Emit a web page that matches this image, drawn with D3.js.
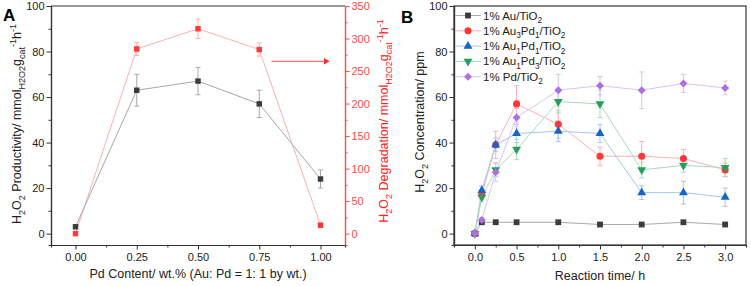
<!DOCTYPE html>
<html>
<head>
<meta charset="utf-8">
<script src="https://cdn.jsdelivr.net/npm/d3@7"></script>
<style>
  body { margin: 0; background: #fff; }
  text { font-family: "Liberation Sans", Arial, sans-serif; }
  .axis path, .axis line { stroke: #333; }
  .axis text { fill: #222; font-size: 11px; }
  .red.axis path, .red.axis line { stroke: #ff4a4a; }
  .red.axis text { fill: #ff4a4a; }
</style>
</head>
<body>
<script>
// Panel A data
var pdContent = [0, 0.25, 0.5, 0.75, 1.0];
var productivity = [3, 63, 67, 57, 24];
var productivityErr = [0.5, 7, 6, 6, 4];
var degradation = [0, 284, 315, 283, 13];
var degradationErr = [1, 10, 15, 10, 3];
var arrowX = [0.8, 1.03], arrowY = 265;

// Panel B data
var times = [0, 0.083, 0.25, 0.5, 1, 1.5, 2, 2.5, 3];
var seriesNames = ["Au/TiO2", "Au3Pd1/TiO2", "Au1Pd1/TiO2", "Au1Pd3/TiO2", "Pd/TiO2"];
var au = [0, 5, 5, 5, 5, 4, 4, 5, 4];
var auErr = [0, 0.5, 0.5, 0.5, 0.5, 0.5, 0.5, 0.5, 0.5];
var au3pd1 = [0, 17, 39, 57, 48, 34, 34, 33, 28];
var au3pd1Err = [0, 2, 6, 8, 6, 4, 6.5, 4, 3];
var au1pd1 = [0, 19, 39, 44, 45, 44, 18, 18, 16];
var au1pd1Err = [0, 2, 3, 4, 4.5, 4, 3, 5, 4];
var au1pd3 = [0, 16, 28, 37, 58, 57, 28, 30, 29];
var au1pd3Err = [0, 2, 3, 4.5, 5, 6, 3.5, 3, 4];
var pd = [0, 6, 27, 51, 63, 65, 63, 66, 64];
var pdErr = [0, 1, 4, 4, 7, 4, 8, 4, 3];

var svg = d3.select("body").append("svg")
    .attr("width", 751)
    .attr("height", 286);

// writes text with sub/superscripts; parts = [[string, "sub"|"sup"|null], ...]
function richText(t, parts, size) {
  var offset = 0;
  parts.forEach(function(p) {
    var target = p[1] == "sub" ? size * 0.3 : p[1] == "sup" ? -size * 0.42 : 0;
    t.append("tspan")
      .attr("dy", target - offset)
      .style("font-size", (p[1] ? size * 0.72 : size) + "px")
      .text(p[0]);
    offset = target;
  });
}

var unitParts = [["mmol", null], ["H2O2", "sub"], ["g", null], ["cat", "sub"], ["-1", "sup"], ["h", null], ["-1", "sup"]];

// ---------- Panel A ----------
var a = {left: 51, right: 345, top: 6, bottom: 245};
var xA = d3.scaleLinear().domain([-0.1, 1.1]).range([a.left, a.right]);
var yA = d3.scaleLinear().domain([-5, 100]).range([a.bottom, a.top]);
var yA2 = d3.scaleLinear().domain([-17.5, 350]).range([a.bottom, a.top]);

// top frame line
svg.append("line")
    .attr("x1", a.left).attr("x2", a.right)
    .attr("y1", a.top).attr("y2", a.top)
    .attr("stroke", "#333").attr("stroke-width", 1.2);

// minor ticks
svg.append("g").attr("class", "axis")
    .attr("transform", "translate(0," + a.bottom + ")")
    .call(d3.axisBottom(xA).tickValues(d3.range(0.125, 1.1, 0.25)).tickSize(2.5).tickFormat(""));
svg.append("g").attr("class", "axis")
    .attr("transform", "translate(" + a.left + ",0)")
    .call(d3.axisLeft(yA).tickValues(d3.range(10, 100, 20)).tickSize(2.5).tickFormat(""));
svg.append("g").attr("class", "red axis")
    .attr("transform", "translate(" + a.right + ",0)")
    .call(d3.axisRight(yA2).tickValues(d3.range(25, 350, 50)).tickSize(2.5).tickFormat(""));

// major axes
svg.append("g").attr("class", "axis")
    .attr("transform", "translate(0," + a.bottom + ")")
    .call(d3.axisBottom(xA).tickValues(pdContent).tickSize(4.5).tickPadding(4).tickSizeOuter(0).tickFormat(d3.format(".2f")));
svg.append("g").attr("class", "axis")
    .attr("transform", "translate(" + a.left + ",0)")
    .call(d3.axisLeft(yA).tickValues(d3.range(0, 101, 20)).tickSize(4.5).tickPadding(2).tickSizeOuter(0));
svg.append("g").attr("class", "red axis")
    .attr("transform", "translate(" + a.right + ",0)")
    .call(d3.axisRight(yA2).tickValues(d3.range(0, 351, 50)).tickSize(4.5).tickPadding(2).tickSizeOuter(0));
svg.selectAll(".axis path").attr("stroke-width", 1.2);

// draws one series of panel A: line, error bars, square markers
function drawA(vals, errs, y, lineColor, markColor) {
  var g = svg.append("g");
  g.append("path")
    .datum(vals)
    .attr("fill", "none")
    .attr("stroke", lineColor)
    .attr("stroke-width", 1)
    .attr("d", d3.line().x(function(d, i) { return xA(pdContent[i]); }).y(function(d) { return y(d); }));
  var eb = g.selectAll(".eb").data(vals).enter().append("g").attr("stroke", lineColor).attr("stroke-width", 1);
  eb.append("line")
    .attr("x1", function(d, i) { return xA(pdContent[i]); })
    .attr("x2", function(d, i) { return xA(pdContent[i]); })
    .attr("y1", function(d, i) { return y(d - errs[i]); })
    .attr("y2", function(d, i) { return y(d + errs[i]); });
  [-1, 1].forEach(function(s) {
    eb.append("line")
      .attr("x1", function(d, i) { return xA(pdContent[i]) - 2.5; })
      .attr("x2", function(d, i) { return xA(pdContent[i]) + 2.5; })
      .attr("y1", function(d, i) { return y(d + s * errs[i]); })
      .attr("y2", function(d, i) { return y(d + s * errs[i]); });
  });
  g.selectAll(".pt").data(vals).enter().append("path")
    .attr("d", d3.symbol(d3.symbolSquare, 30))
    .attr("transform", function(d, i) { return "translate(" + xA(pdContent[i]) + "," + y(d) + ")"; })
    .attr("fill", markColor);
}

drawA(degradation, degradationErr, yA2, "#ffb0b0", "#ff3838");
drawA(productivity, productivityErr, yA, "#a8a8a8", "#3c3c3c");

// arrow pointing at the right axis
svg.append("line")
    .attr("x1", xA(arrowX[0])).attr("x2", xA(arrowX[1]) - 4)
    .attr("y1", yA2(arrowY)).attr("y2", yA2(arrowY))
    .attr("stroke", "#ff4a4a").attr("stroke-width", 1);
svg.append("path")
    .attr("d", d3.symbol(d3.symbolTriangle, 18))
    .attr("transform", "translate(" + (xA(arrowX[1]) - 2) + "," + yA2(arrowY) + ") rotate(90)")
    .attr("fill", "#ff2a2a");

// titles panel A
svg.append("text").attr("x", 3).attr("y", 21)
    .style("font-size", "17px").style("font-weight", "bold").text("A");

var tA = svg.append("text")
    .attr("transform", "translate(21," + 124 + ") rotate(-90)")
    .attr("text-anchor", "middle").attr("fill", "#222");
richText(tA, [["H", null], ["2", "sub"], ["O", null], ["2", "sub"], [" Productivity/ ", null]].concat(unitParts), 12.5);

var tA2 = svg.append("text")
    .attr("transform", "translate(388," + 121 + ") rotate(-90)")
    .attr("text-anchor", "middle").attr("fill", "#ff2020");
richText(tA2, [["H", null], ["2", "sub"], ["O", null], ["2", "sub"], [" Degradation/ ", null]].concat(unitParts), 12.5);

svg.append("text")
    .attr("x", (a.left + a.right) / 2).attr("y", 278)
    .attr("text-anchor", "middle").attr("fill", "#222")
    .style("font-size", "12.5px")
    .text("Pd Content/ wt.% (Au: Pd = 1: 1 by wt.)");

// ---------- Panel B ----------
var b = {left: 454, right: 746, top: 6, bottom: 245};
var xB = d3.scaleLinear().domain([-0.25, 3.25]).range([b.left, b.right]);
var yB = d3.scaleLinear().domain([-5, 100]).range([b.bottom, b.top]);

svg.append("rect")
    .attr("x", b.left).attr("y", b.top)
    .attr("width", b.right - b.left).attr("height", b.bottom - b.top)
    .attr("fill", "none").attr("stroke", "#333").attr("stroke-width", 1.2);

svg.append("g").attr("class", "axis")
    .attr("transform", "translate(0," + b.bottom + ")")
    .call(d3.axisBottom(xB).tickValues(d3.range(0.25, 3.1, 0.5)).tickSize(2.5).tickFormat(""));
svg.append("g").attr("class", "axis")
    .attr("transform", "translate(" + b.left + ",0)")
    .call(d3.axisLeft(yB).tickValues(d3.range(10, 100, 20)).tickSize(2.5).tickFormat(""));
svg.append("g").attr("class", "axis")
    .attr("transform", "translate(0," + b.bottom + ")")
    .call(d3.axisBottom(xB).tickValues(d3.range(0, 3.01, 0.5)).tickSize(4.5).tickPadding(4).tickSizeOuter(0).tickFormat(d3.format(".1f")));
svg.append("g").attr("class", "axis")
    .attr("transform", "translate(" + b.left + ",0)")
    .call(d3.axisLeft(yB).tickValues(d3.range(0, 101, 20)).tickSize(4.5).tickPadding(2).tickSizeOuter(0));
svg.selectAll(".axis path").attr("stroke-width", 1.2);

var seriesB = [
  {vals: au, errs: auErr, line: "#a8a8b0", mark: "#3c3c3c", sym: d3.symbolSquare, size: 34, rot: 0},
  {vals: au3pd1, errs: au3pd1Err, line: "#ffb0b4", mark: "#ff3838", sym: d3.symbolCircle, size: 40, rot: 0},
  {vals: au1pd1, errs: au1pd1Err, line: "#a6c6ea", mark: "#1664c8", sym: d3.symbolTriangle, size: 34, rot: 0},
  {vals: au1pd3, errs: au1pd3Err, line: "#a8dcbc", mark: "#24a05c", sym: d3.symbolTriangle, size: 34, rot: 180},
  {vals: pd, errs: pdErr, line: "#d9c4ef", mark: "#b06ee0", sym: d3.symbolSquare, size: 32, rot: 45}
];

seriesB.forEach(function(s) {
  svg.append("path")
    .datum(s.vals)
    .attr("fill", "none")
    .attr("stroke", s.line)
    .attr("stroke-width", 1)
    .attr("d", d3.line().x(function(d, i) { return xB(times[i]); }).y(function(d) { return yB(d); }));
});

seriesB.forEach(function(s) {
  var eb = svg.append("g").attr("stroke", s.line).attr("stroke-width", 1)
    .selectAll("g").data(s.vals).enter().append("g");
  eb.append("line")
    .attr("x1", function(d, i) { return xB(times[i]); })
    .attr("x2", function(d, i) { return xB(times[i]); })
    .attr("y1", function(d, i) { return yB(d - s.errs[i]); })
    .attr("y2", function(d, i) { return yB(d + s.errs[i]); });
  [-1, 1].forEach(function(k) {
    eb.append("line")
      .attr("x1", function(d, i) { return xB(times[i]) - 2.5; })
      .attr("x2", function(d, i) { return xB(times[i]) + 2.5; })
      .attr("y1", function(d, i) { return yB(d + k * s.errs[i]); })
      .attr("y2", function(d, i) { return yB(d + k * s.errs[i]); });
  });
});

seriesB.forEach(function(s) {
  svg.append("g").selectAll("path").data(s.vals).enter().append("path")
    .attr("d", d3.symbol(s.sym, s.size))
    .attr("transform", function(d, i) { return "translate(" + xB(times[i]) + "," + yB(d) + ") rotate(" + s.rot + ")"; })
    .attr("fill", s.mark);
});

// legend
var legendParts = [
  [["1% Au/TiO", null], ["2", "sub"]],
  [["1% Au", null], ["3", "sub"], ["Pd", null], ["1", "sub"], ["/TiO", null], ["2", "sub"]],
  [["1% Au", null], ["1", "sub"], ["Pd", null], ["1", "sub"], ["/TiO", null], ["2", "sub"]],
  [["1% Au", null], ["1", "sub"], ["Pd", null], ["3", "sub"], ["/TiO", null], ["2", "sub"]],
  [["1% Pd/TiO", null], ["2", "sub"]]
];
var legend = svg.append("g").selectAll("g").data(seriesB).enter().append("g")
    .attr("transform", function(d, i) { return "translate(455," + (15.5 + i * 15.3) + ")"; });
legend.append("line")
    .attr("x1", 0).attr("x2", 26)
    .attr("stroke", function(d) { return d.line; }).attr("stroke-width", 1);
legend.append("path")
    .attr("d", function(d) { return d3.symbol(d.sym, d.size)(); })
    .attr("transform", function(d) { return "translate(13,0) rotate(" + d.rot + ")"; })
    .attr("fill", function(d) { return d.mark; });
legend.append("text")
    .attr("x", 28).attr("y", 4)
    .attr("fill", "#222")
    .each(function(d, i) { richText(d3.select(this), legendParts[i], 11.5); });

// titles panel B
svg.append("text").attr("x", 401).attr("y", 23)
    .style("font-size", "17px").style("font-weight", "bold").text("B");

var tB = svg.append("text")
    .attr("transform", "translate(424," + 122 + ") rotate(-90)")
    .attr("text-anchor", "middle").attr("fill", "#222");
richText(tB, [["H", null], ["2", "sub"], ["O", null], ["2", "sub"], [" Concentration/ ppm", null]], 12.5);

svg.append("text")
    .attr("x", (b.left + b.right) / 2).attr("y", 280)
    .attr("text-anchor", "middle").attr("fill", "#222")
    .style("font-size", "12.5px")
    .text("Reaction time/ h");
</script>
</body>
</html>
